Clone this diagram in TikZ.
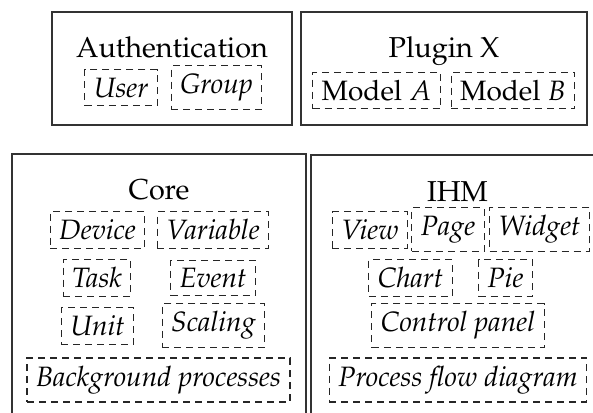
\documentclass[tikz,border=0pt]{standalone}
\usepackage[T1]{fontenc}
\usepackage{mathpazo}
\usepackage{tikz}

\begin{document}
\begin{tikzpicture}[
			x=0.5pt, y=-0.5pt,
			every node/.style={align=center},
			frame/.style={rectangle, draw=black!80, line width=0.6pt, inner sep=0pt},
			title/.style={font=\Large, anchor=base, inner sep=0pt},
			part/.style={rectangle, draw=black!85, line width=0.55pt,
				dash pattern=on 3.5pt off 2.5pt, inner xsep=4.5pt, inner ysep=4pt,
				font=\fontsize{14}{17}\selectfont\itshape},
			]
			\useasboundingbox (0,0) rectangle (593,412);
			
			% packages
			\node[frame, minimum width=120pt, minimum height=56.5pt] (auth) at (172,68.5) {};
			\node[title] (authtitle) at (172,57) {Authentication};
			\node[part] (user) at (121,87.5) {User};
			\node[part] (group) at (216.5,87.5) {Group};
			
			\node[frame, minimum width=143pt, minimum height=56.5pt] (plugin) at (444,68.5) {};
			\node[title] (plugintitle) at (444,57) {Plugin X};
			\node[part] (modela) at (376.5,90.5) {\textup{Model}~$A$};
			\node[part] (modelb) at (513,90.5) {\textup{Model}~$B$};
			
			\node[frame, minimum width=147pt, minimum height=143pt] (core) at (159,297) {};
			\node[title] (coretitle) at (159,199) {Core};
			\node[part] (device) at (97.5,230) {Device};
			\node[part] (variable) at (213,230) {Variable};
			\node[part] (task) at (97,278) {Task};
			\node[part] (event) at (213,278) {Event};
			\node[part] (unit) at (97.5,326) {Unit};
			\node[part] (scaling) at (213.5,325.5) {Scaling};
			\node[part] (background) at (158.5,380) {Background processes};
			
			\node[frame, minimum width=146.5pt, minimum height=142.5pt] (ihm) at (457.5,297.5) {};
			\node[title] (ihmtitle) at (457.5,201) {IHM};
			\node[part] (view) at (370,230) {View};
			\node[part] (page) at (448,229.5) {Page};
			\node[part] (widget) at (539.5,229.5) {Widget};
			\node[part] (chart) at (410.5,278) {Chart};
			\node[part] (pie) at (505.5,278) {Pie};
			\node[part] (panel) at (458,325.5) {Control panel};
			\node[part] (flow) at (458,380) {Process flow diagram};
			
		\end{tikzpicture}
\end{document}
